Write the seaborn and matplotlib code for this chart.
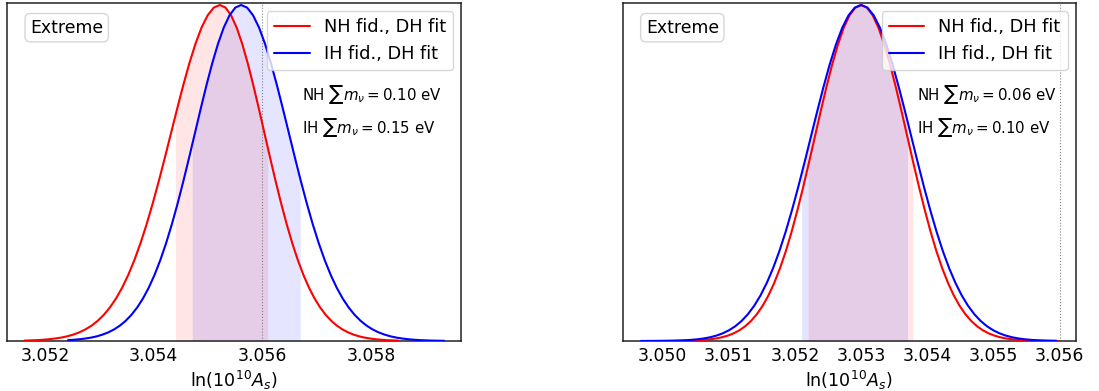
import numpy as np
import matplotlib
matplotlib.use("Agg")
import matplotlib.pyplot as plt
import seaborn as sns

# ---------------- data ----------------
# Left panel: normalised 1D posteriors of ln(10^10 A_s)
red_left_x = [3.05162, 3.0517325, 3.051845, 3.0519575, 3.05207, 3.0521825, 3.052295, 3.0524075,
              3.05252, 3.0526325, 3.052745, 3.0528575, 3.05297, 3.0530825, 3.053195, 3.0533075,
              3.05342, 3.0535325, 3.053645, 3.0537575, 3.05387, 3.0539825, 3.054095, 3.0542075,
              3.05432, 3.0544325, 3.054545, 3.0546575, 3.05477, 3.0548825, 3.054995, 3.0551075,
              3.05522,
              3.0553225, 3.055425, 3.0555275, 3.05563, 3.0557325, 3.055835, 3.0559375, 3.05604,
              3.0561425, 3.056245, 3.0563475, 3.05645, 3.0565525, 3.056655, 3.0567575, 3.05686,
              3.0569625, 3.057065, 3.0571675, 3.05727, 3.0573725, 3.057475, 3.0575775, 3.05768,
              3.0577825, 3.057885, 3.0579875, 3.05809, 3.0581925, 3.058295, 3.0583975, 3.0585]
red_left_y = [0.0012, 0.0018, 0.0025, 0.0036, 0.0052, 0.0073, 0.0101, 0.0139, 0.0191, 0.0258,
              0.0346, 0.0458, 0.0601, 0.0779, 0.0999, 0.1267, 0.1588, 0.1967, 0.2407, 0.2910,
              0.3473, 0.4093, 0.4761, 0.5464, 0.6188, 0.6911, 0.7613, 0.8266, 0.8847, 0.9331,
              0.9695, 0.9923, 1.0,
              0.9923, 0.9695, 0.9331, 0.8847, 0.8266, 0.7613, 0.6911, 0.6188, 0.5464, 0.4761,
              0.4093, 0.3473, 0.2910, 0.2407, 0.1967, 0.1588, 0.1267, 0.0999, 0.0779, 0.0601,
              0.0458, 0.0346, 0.0258, 0.0191, 0.0139, 0.0101, 0.0073, 0.0052, 0.0036, 0.0025,
              0.0018, 0.0012]
blue_left_x = [3.0524225, 3.05252875, 3.052635, 3.05274125, 3.0528475, 3.05295375, 3.05306,
               3.05316625, 3.0532725, 3.05337875, 3.053485, 3.05359125, 3.0536975, 3.05380375,
               3.05391, 3.05401625, 3.0541225, 3.05422875, 3.054335, 3.05444125, 3.0545475,
               3.05465375, 3.05476, 3.05486625, 3.0549725, 3.05507875, 3.055185, 3.05529125,
               3.0553975, 3.05550375, 3.05561,
               3.05572, 3.05583, 3.05594, 3.05605, 3.05616, 3.05627, 3.05638, 3.05649, 3.0566,
               3.05671, 3.05682, 3.05693, 3.05704, 3.05715, 3.05726, 3.05737, 3.05748, 3.05759,
               3.0577, 3.05781, 3.05792, 3.05803, 3.05814, 3.05825, 3.05836, 3.05847, 3.05858,
               3.05869, 3.0588, 3.05891, 3.05902, 3.05913, 3.05924, 3.05935]
blue_left_y = [0.0025, 0.0036, 0.0052, 0.0073, 0.0101, 0.0139, 0.0191, 0.0258, 0.0346, 0.0458,
               0.0601, 0.0779, 0.0999, 0.1267, 0.1588, 0.1967, 0.2407, 0.2910, 0.3473, 0.4093,
               0.4761, 0.5464, 0.6188, 0.6911, 0.7613, 0.8266, 0.8847, 0.9331, 0.9695, 0.9923,
               1.0,
               0.9923, 0.9695, 0.9331, 0.8847, 0.8266, 0.7613, 0.6911, 0.6188, 0.5464, 0.4761,
               0.4093, 0.3473, 0.2910, 0.2407, 0.1967, 0.1588, 0.1267, 0.0999, 0.0779, 0.0601,
               0.0458, 0.0346, 0.0258, 0.0191, 0.0139, 0.0101, 0.0073, 0.0052, 0.0036, 0.0025,
               0.0018, 0.0012, 0.0008, 0.0006]

# Right panel
red_right_x = [3.0497625, 3.04985, 3.0499375, 3.050025, 3.0501125, 3.0502, 3.0502875, 3.050375,
               3.0504625, 3.05055, 3.0506375, 3.050725, 3.0508125, 3.0509, 3.0509875, 3.051075,
               3.0511625, 3.05125, 3.0513375, 3.051425, 3.0515125, 3.0516, 3.0516875, 3.051775,
               3.0518625, 3.05195, 3.0520375, 3.052125, 3.0522125, 3.0523, 3.0523875, 3.052475,
               3.0525625, 3.05265, 3.0527375, 3.052825, 3.0529125, 3.053,
               3.0530875, 3.053175, 3.0532625, 3.05335, 3.0534375, 3.053525, 3.0536125, 3.0537,
               3.0537875, 3.053875, 3.0539625, 3.05405, 3.0541375, 3.054225, 3.0543125, 3.0544,
               3.0544875, 3.054575, 3.0546625, 3.05475, 3.0548375, 3.054925, 3.0550125, 3.0551,
               3.0551875, 3.055275, 3.0553625, 3.05545, 3.0555375, 3.055625, 3.0557125, 3.0558,
               3.0558875, 3.055975]
red_right_y = [0.0, 0.0, 0.0001, 0.0001, 0.0002, 0.0003, 0.0006, 0.0009, 0.0014, 0.0022, 0.0034,
               0.0051, 0.0076, 0.0111, 0.0160, 0.0228, 0.0319, 0.0439, 0.0596, 0.0796, 0.1046,
               0.1353, 0.1725, 0.2163, 0.2670, 0.3247, 0.3887, 0.4578, 0.5311, 0.6065, 0.6819,
               0.7548, 0.8226, 0.8825, 0.9321, 0.9692, 0.9922, 1.0,
               0.9922, 0.9692, 0.9321, 0.8825, 0.8226, 0.7548, 0.6819, 0.6065, 0.5311, 0.4578,
               0.3887, 0.3247, 0.2670, 0.2163, 0.1725, 0.1353, 0.1046, 0.0796, 0.0596, 0.0439,
               0.0319, 0.0228, 0.0160, 0.0111, 0.0076, 0.0051, 0.0034, 0.0022, 0.0014, 0.0009,
               0.0006, 0.0003, 0.0002, 0.0001]
blue_right_x = [3.049675, 3.04977, 3.049865, 3.04996, 3.050055, 3.05015, 3.050245, 3.05034,
                3.050435, 3.05053, 3.050625, 3.05072, 3.050815, 3.05091, 3.051005, 3.0511,
                3.051195, 3.05129, 3.051385, 3.05148, 3.051575, 3.05167, 3.051765, 3.05186,
                3.051955, 3.05205, 3.052145, 3.05224, 3.052335, 3.05243, 3.052525, 3.05262,
                3.052715, 3.05281, 3.052905, 3.053,
                3.053095, 3.05319, 3.053285, 3.05338, 3.053475, 3.05357, 3.053665, 3.05376,
                3.053855, 3.05395, 3.054045, 3.05414, 3.054235, 3.05433, 3.054425, 3.05452,
                3.054615, 3.05471, 3.054805, 3.0549, 3.054995, 3.05509, 3.055185, 3.05528,
                3.055375, 3.05547, 3.055565, 3.05566, 3.055755, 3.05585, 3.055945]
blue_right_y = [0.0001, 0.0001, 0.0002, 0.0003, 0.0006, 0.0009, 0.0014, 0.0022, 0.0034, 0.0051,
                0.0076, 0.0111, 0.0160, 0.0228, 0.0319, 0.0439, 0.0596, 0.0796, 0.1046, 0.1353,
                0.1725, 0.2163, 0.2670, 0.3247, 0.3887, 0.4578, 0.5311, 0.6065, 0.6819, 0.7548,
                0.8226, 0.8825, 0.9321, 0.9692, 0.9922, 1.0,
                0.9922, 0.9692, 0.9321, 0.8825, 0.8226, 0.7548, 0.6819, 0.6065, 0.5311, 0.4578,
                0.3887, 0.3247, 0.2670, 0.2163, 0.1725, 0.1353, 0.1046, 0.0796, 0.0596, 0.0439,
                0.0319, 0.0228, 0.0160, 0.0111, 0.0076, 0.0051, 0.0034, 0.0022, 0.0014, 0.0009,
                0.0006]

# 68% intervals (lo, hi)
red_left_band = (3.0544, 3.0561)
blue_left_band = (3.05471, 3.0567)
red_right_band = (3.0522, 3.05378)
blue_right_band = (3.0521, 3.0537)

fiducial = 3.056
legend_labels = ["NH fid., DH fit", "IH fid., DH fit"]
panel_tag = "Extreme"
left_notes = [r"NH $\sum m_\nu = 0.10$ eV", r"IH $\sum m_\nu = 0.15$ eV"]
right_notes = [r"NH $\sum m_\nu = 0.06$ eV", r"IH $\sum m_\nu = 0.10$ eV"]
left_ticks = [3.052, 3.054, 3.056, 3.058]
left_ticklabels = ["3.052", "3.054", "3.056", "3.058"]
right_ticks = [3.050, 3.051, 3.052, 3.053, 3.054, 3.055, 3.056]
right_ticklabels = ["3.050", "3.051", "3.052", "3.053", "3.054", "3.055", "3.056"]
xlabel = r"$\ln(10^{10}A_s)$"

# ---------------- plotting ----------------
sns.set_style("white")
plt.rcParams["font.family"] = ["DejaVu Sans"]
plt.rcParams["mathtext.fontset"] = "dejavusans"
plt.rcParams["text.color"] = "black"
plt.rcParams["axes.labelcolor"] = "black"
plt.rcParams["xtick.color"] = "black"

fig = plt.figure(figsize=(10.99, 3.91), dpi=100)
axL = fig.add_axes([0.0064, 0.1279, 0.4131, 0.8645])
axR = fig.add_axes([0.5666, 0.1279, 0.4122, 0.8645])


def shade(ax, x, y, band, color):
    x = np.asarray(x)
    y = np.asarray(y)
    lo, hi = band
    xs = np.concatenate([[lo], x[(x > lo) & (x < hi)], [hi]])
    ys = np.interp(xs, x, y)
    ax.fill_between(xs, 0, ys, color=color, alpha=0.1, lw=0, zorder=1)


def panel(ax, rx, ry, bx, by, rband, bband, notes, xlim, ticks, ticklabels):
    shade(ax, rx, ry, rband, "red")
    shade(ax, bx, by, bband, "blue")
    sns.lineplot(x=rx, y=ry, ax=ax, color="red", linewidth=1.5, label=legend_labels[0],
                 zorder=3)
    sns.lineplot(x=bx, y=by, ax=ax, color="blue", linewidth=1.5, label=legend_labels[1],
                 zorder=3)
    ax.axvline(fiducial, color="gray", ls=":", lw=0.8, zorder=2)
    ax.set_xlim(*xlim)
    ax.set_ylim(0, 1.006)
    ax.set_yticks([])
    ax.set_xticks(ticks)
    ax.set_xticklabels(ticklabels)
    ax.tick_params(axis="x", direction="in", length=5, width=1, labelsize=12.4, pad=4,
                   colors="black")
    ax.set_xlabel(xlabel, fontsize=12.6, labelpad=3)
    ax.set_ylabel("")
    for s in ax.spines.values():
        s.set_visible(True)
        s.set_color("#222222")
        s.set_linewidth(1.1)
    leg = ax.legend(loc="upper right", fontsize=12.8, frameon=True, framealpha=0.8,
                    handlelength=2.0, borderaxespad=0.45)
    leg.get_frame().set_edgecolor("0.8")
    ax.text(0.051, 0.927, panel_tag, transform=ax.transAxes, ha="left", va="center",
            fontsize=12.4,
            bbox=dict(boxstyle="round,pad=0.3", fc="white", ec="0.8", alpha=0.8))
    ax.text(0.65, 0.728, notes[0], transform=ax.transAxes, ha="left", va="center",
            fontsize=10.8)
    ax.text(0.65, 0.633, notes[1], transform=ax.transAxes, ha="left", va="center",
            fontsize=10.8)


panel(axL, red_left_x, red_left_y, blue_left_x, blue_left_y, red_left_band, blue_left_band,
      left_notes, (3.0513, 3.05966), left_ticks, left_ticklabels)
panel(axR, red_right_x, red_right_y, blue_right_x, blue_right_y, red_right_band,
      blue_right_band, right_notes, (3.0494, 3.05624), right_ticks, right_ticklabels)

fig.savefig("out.png", dpi=100)
